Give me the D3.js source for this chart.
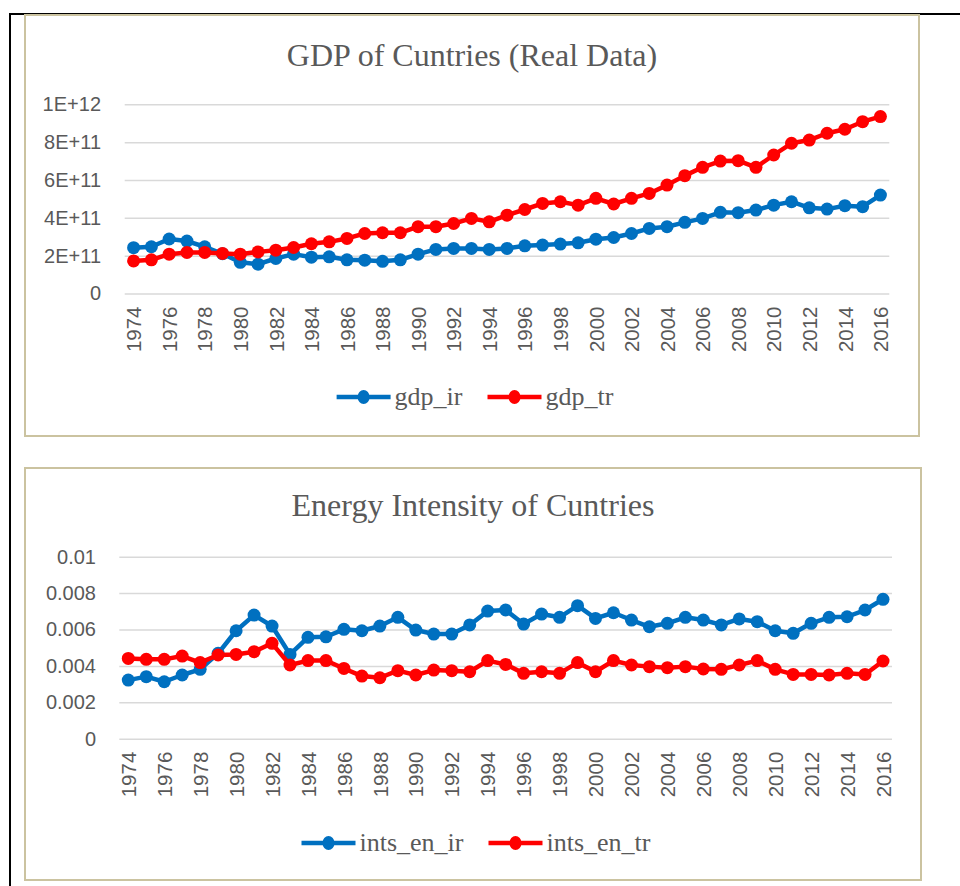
<!DOCTYPE html>
<html>
<head>
<meta charset="utf-8">
<script src="https://cdn.jsdelivr.net/npm/d3@7.9.0/dist/d3.min.js"></script>
<style>
  body { margin: 0; background: #fff; }
  svg { display: block; }
</style>
</head>
<body>
<svg id="page" width="960" height="886"></svg>
<script>
const years = [1974, 1975, 1976, 1977, 1978, 1979, 1980, 1981, 1982, 1983,
  1984, 1985, 1986, 1987, 1988, 1989, 1990, 1991, 1992, 1993,
  1994, 1995, 1996, 1997, 1998, 1999, 2000, 2001, 2002, 2003,
  2004, 2005, 2006, 2007, 2008, 2009, 2010, 2011, 2012, 2013,
  2014, 2015, 2016];

// GDP, in units of 1E+11
const gdpIr = [2.42, 2.47, 2.88, 2.77, 2.47, 2.1, 1.65, 1.55, 1.85, 2.08,
  1.92, 1.94, 1.78, 1.76, 1.7, 1.78, 2.08, 2.33, 2.38, 2.38,
  2.33, 2.38, 2.52, 2.56, 2.61, 2.68, 2.87, 2.96, 3.17, 3.44,
  3.53, 3.76, 3.97, 4.29, 4.27, 4.41, 4.67, 4.85, 4.53, 4.46,
  4.64, 4.59, 5.2];
const gdpTr = [1.72, 1.78, 2.08, 2.17, 2.17, 2.12, 2.08, 2.2, 2.29, 2.43,
  2.63, 2.73, 2.91, 3.17, 3.21, 3.21, 3.53, 3.53, 3.7, 3.97,
  3.79, 4.14, 4.44, 4.76, 4.85, 4.67, 5.03, 4.73, 5.03, 5.29,
  5.73, 6.23, 6.67, 7.0, 7.02, 6.67, 7.32, 7.94, 8.11, 8.47,
  8.68, 9.08, 9.35];

// energy intensity, in units of 0.001
const intsIr = [3.22, 3.41, 3.13, 3.5, 3.81, 4.69, 5.93, 6.79, 6.19, 4.63,
  5.57, 5.6, 6.01, 5.93, 6.19, 6.67, 5.97, 5.75, 5.75, 6.25,
  7.01, 7.07, 6.3, 6.85, 6.67, 7.31, 6.61, 6.92, 6.52, 6.15,
  6.34, 6.67, 6.52, 6.25, 6.58, 6.43, 5.93, 5.79, 6.34, 6.67,
  6.7, 7.07, 7.66];
const intsTr = [4.41, 4.36, 4.36, 4.54, 4.18, 4.6, 4.63, 4.78, 5.24, 4.05,
  4.29, 4.29, 3.86, 3.44, 3.35, 3.74, 3.5, 3.77, 3.74, 3.68,
  4.29, 4.08, 3.59, 3.68, 3.59, 4.18, 3.68, 4.29, 4.05, 3.96,
  3.9, 3.96, 3.83, 3.81, 4.05, 4.29, 3.81, 3.53, 3.53, 3.5,
  3.59, 3.53, 4.27];

const gdpTicks = [0, 2e11, 4e11, 6e11, 8e11, 1e12];
const gdpTickLabels = ['0', '2E+11', '4E+11', '6E+11', '8E+11', '1E+12'];
const intsTicks = [0, 0.002, 0.004, 0.006, 0.008, 0.01];
const intsTickLabels = ['0', '0.002', '0.004', '0.006', '0.008', '0.01'];

const BLUE = '#0070C0';
const RED = '#FF0000';
const TAN = '#CBC3A0';
const GREY = '#595959';
const sansFont = '"Liberation Sans", Arial, sans-serif';
const serifFont = '"Liberation Serif", "Times New Roman", serif';

const svg = d3.select('#page');

// table cell frame
svg.append('line').attr('x1', 9).attr('x2', 960).attr('y1', 14).attr('y2', 14)
  .attr('stroke', '#000').attr('stroke-width', 2);
svg.append('line').attr('x1', 10).attr('x2', 10).attr('y1', 13).attr('y2', 886)
  .attr('stroke', '#000').attr('stroke-width', 2);

function drawChart(opts) {
  const g = svg.append('g');

  g.append('rect')
    .attr('x', opts.box[0]).attr('y', opts.box[1])
    .attr('width', opts.box[2]).attr('height', opts.box[3])
    .attr('fill', '#fff').attr('stroke', TAN).attr('stroke-width', 2);

  g.append('text')
    .attr('x', opts.box[0] + opts.box[2] / 2)
    .attr('y', opts.titleY)
    .attr('text-anchor', 'middle')
    .attr('font-family', serifFont)
    .attr('font-size', 32)
    .attr('fill', GREY)
    .text(opts.title);

  const x = d3.scalePoint()
    .domain(years)
    .range([opts.left, opts.right])
    .padding(0.5);
  const y = d3.scaleLinear()
    .domain([0, opts.ticks[opts.ticks.length - 1]])
    .range([opts.bottom, opts.top]);

  // gridlines + y labels
  const yAxis = g.append('g')
    .attr('transform', `translate(${opts.left},0)`)
    .call(d3.axisLeft(y)
      .tickValues(opts.ticks)
      .tickFormat((d, i) => opts.tickLabels[i])
      .tickSize(-(opts.right - opts.left))
      .tickPadding(opts.left - opts.labelRight));
  yAxis.select('.domain').remove();
  yAxis.selectAll('line').attr('stroke', '#D9D9D9').attr('stroke-width', 1.5);
  yAxis.selectAll('text')
    .attr('font-family', sansFont)
    .attr('font-size', 20)
    .attr('fill', GREY);

  // x labels, every other year
  const xAxis = g.append('g')
    .attr('transform', `translate(0,${opts.bottom})`)
    .call(d3.axisBottom(x)
      .tickValues(years.filter((d, i) => i % 2 === 0))
      .tickSize(0));
  xAxis.select('.domain').remove();
  xAxis.selectAll('text')
    .attr('font-family', sansFont)
    .attr('font-size', 20.5)
    .attr('fill', GREY)
    .attr('transform', 'rotate(-90)')
    .attr('text-anchor', 'end')
    .attr('x', -13)
    .attr('y', 0)
    .attr('dy', '0.35em');

  const line = d3.line()
    .x((d, i) => x(years[i]))
    .y(d => y(d * opts.unit));

  opts.series.forEach(s => {
    g.append('path')
      .datum(s.values)
      .attr('d', line)
      .attr('fill', 'none')
      .attr('stroke', s.color)
      .attr('stroke-width', 4.5)
      .attr('stroke-linejoin', 'round');
    g.selectAll(null)
      .data(s.values)
      .join('circle')
      .attr('cx', (d, i) => x(years[i]))
      .attr('cy', d => y(d * opts.unit))
      .attr('r', 6.5)
      .attr('fill', s.color);
  });

  // legend
  const leg = g.append('g');
  let cx = 0;
  opts.series.forEach((s, i) => {
    const item = leg.append('g').attr('transform', `translate(${cx},0)`);
    item.append('line')
      .attr('x1', 0).attr('x2', 54).attr('y1', 0).attr('y2', 0)
      .attr('stroke', s.color).attr('stroke-width', 4.5);
    item.append('ellipse')
      .attr('cx', 27).attr('cy', 0).attr('rx', 6).attr('ry', 7)
      .attr('fill', s.color);
    const t = item.append('text')
      .attr('x', 58).attr('y', 0).attr('dy', '0.3em')
      .attr('font-family', serifFont)
      .attr('font-size', 26)
      .attr('fill', GREY)
      .text(s.name);
    cx += 58 + t.node().getComputedTextLength() + 25;
  });
  const legW = cx - 25;
  leg.attr('transform', `translate(${opts.legendCx - legW / 2},${opts.legendY})`);
}

drawChart({
  box: [25, 15, 894, 421],
  title: 'GDP of Cuntries (Real Data)',
  titleY: 66,
  left: 124.7, right: 889.3, top: 104.3, bottom: 293.5,
  labelRight: 101,
  ticks: gdpTicks, tickLabels: gdpTickLabels,
  unit: 1e11,
  series: [
    { name: 'gdp_ir', values: gdpIr, color: BLUE },
    { name: 'gdp_tr', values: gdpTr, color: RED }
  ],
  legendCx: 475, legendY: 397
});

drawChart({
  box: [25, 468, 896, 412],
  title: 'Energy Intensity of Cuntries',
  titleY: 516,
  left: 119.3, right: 892, top: 556.7, bottom: 738.7,
  labelRight: 96,
  ticks: intsTicks, tickLabels: intsTickLabels,
  unit: 0.001,
  series: [
    { name: 'ints_en_ir', values: intsIr, color: BLUE },
    { name: 'ints_en_tr', values: intsTr, color: RED }
  ],
  legendCx: 476, legendY: 843
});
</script>
</body>
</html>
